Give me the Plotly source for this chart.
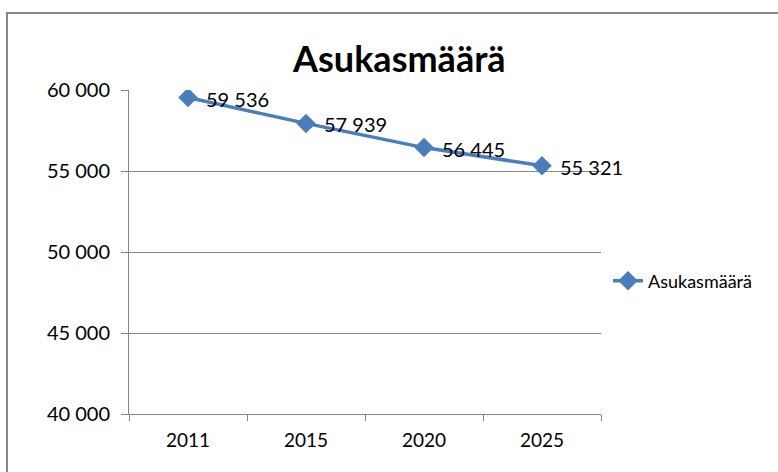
import plotly.graph_objects as go

years = ["2011", "2015", "2020", "2025"]
population = [59536, 57939, 56445, 55321]
population_labels = ["59 536", "57 939", "56 445", "55 321"]
y_ticks = [40000, 45000, 50000, 55000, 60000]
y_tick_labels = ["40 000", "45 000", "50 000", "55 000", "60 000"]
series_name = "Asukasmäärä"
title_text = "Asukasmäärä"

FONT = "Lato, Open Sans, sans-serif"
BLUE = "#4A7EBB"

W, H = 778, 472
L, R, T, B = 129, 601, 90, 414
pw, ph = R - L, B - T

def px(x):
    return (x - L) / pw

def py(y):
    return (B - y) / ph

fig = go.Figure()
fig.add_trace(go.Scatter(
    x=years, y=population, mode="lines+markers", name=series_name,
    line=dict(color=BLUE, width=3.5),
    marker=dict(symbol="diamond", size=15, color=BLUE),
))

for i, (v, lab) in enumerate(zip(population, population_labels)):
    fig.add_annotation(x=i, y=v, text=lab, showarrow=False, xanchor="left",
                       yanchor="middle", xshift=16, yshift=-1,
                       font=dict(family=FONT, size=20, color="#000000"))

fig.add_annotation(xref="paper", yref="paper", x=px(399), y=py(58), text="<b>" + title_text + "</b>",
                   showarrow=False, xanchor="center", yanchor="middle",
                   font=dict(family=FONT, size=36, color="#000000"))

fig.add_shape(type="rect", xref="paper", yref="paper",
              x0=px(7), x1=px(800), y0=py(500), y1=py(13),
              line=dict(color="#878787", width=2), fillcolor="rgba(0,0,0,0)", layer="below")

fig.update_layout(
    width=W, height=H,
    margin=dict(l=L, r=W - R, t=T, b=H - B),
    paper_bgcolor="white", plot_bgcolor="white",
    showlegend=True,
    legend=dict(x=px(608), y=py(281), xanchor="left", yanchor="middle",
                font=dict(family=FONT, size=18, color="#000000"),
                bgcolor="rgba(0,0,0,0)", itemwidth=30),
    font=dict(family=FONT, size=19, color="#000000"),
)
fig.update_xaxes(type="category", showgrid=False, showline=True, linecolor="#868686", linewidth=1,
                 ticks="outside", tickson="boundaries", ticklen=6, tickcolor="#868686",
                 ticklabelstandoff=9,
                 tickfont=dict(family=FONT, size=19, color="#000000"), range=[-0.5, 3.5])
fig.update_yaxes(range=[40000, 60000], tickvals=y_ticks, ticktext=y_tick_labels,
                 showgrid=True, gridcolor="#868686", gridwidth=1,
                 showline=True, linecolor="#868686", linewidth=1,
                 ticks="outside", ticklen=7, tickcolor="#868686", zeroline=False,
                 ticklabelstandoff=7,
                 tickfont=dict(family=FONT, size=20, color="#000000"))

fig.write_html("out.html", config={"displayModeBar": False},
               post_script="document.body.style.margin='0px';")
